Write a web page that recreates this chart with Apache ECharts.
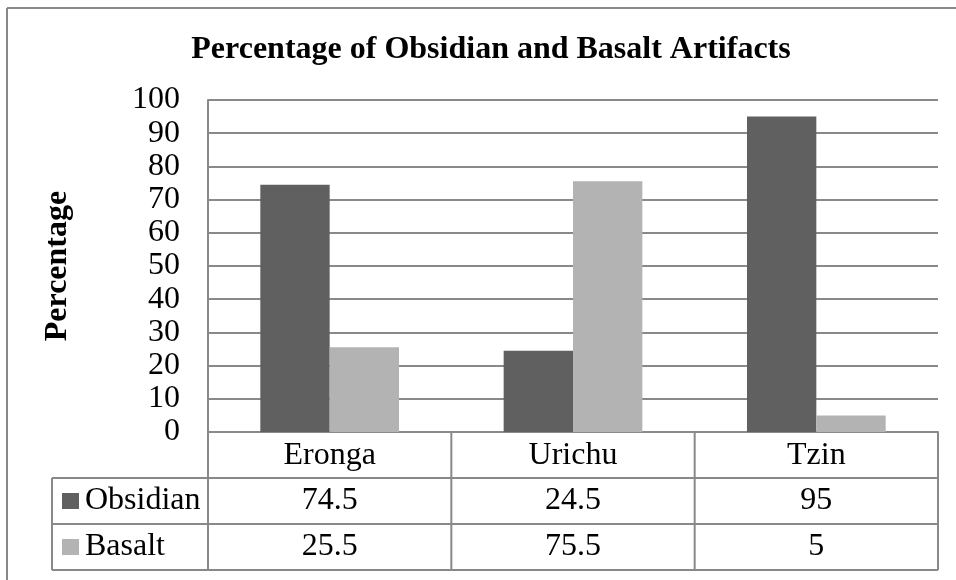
<!DOCTYPE html>
<html>
<head>
<meta charset="utf-8">
<script src="https://cdn.jsdelivr.net/npm/echarts@6/dist/echarts.min.js"></script>
<style>
html,body{margin:0;padding:0;background:#fff;}
#main{width:956px;height:580px;}
</style>
</head>
<body>
<div id="main"></div>
<script>
const categories = ['Eronga', 'Urichu', 'Tzin'];
const seriesNames = ['Obsidian', 'Basalt'];
const obsidian = [74.5, 24.5, 95];
const basalt = [25.5, 75.5, 5];
const yMin = 0, yMax = 100, yStep = 10;

const FONT = 'Liberation Serif';
const LINE = '#898989';
const COLORS = ['#606060', '#b3b3b3'];
const FS = 32;

const G = { left: 208, top: 100, width: 730, height: 332 };
const rowH = 46;
const tableLeft = 52;

const chart = echarts.init(document.getElementById('main'));

chart.setOption({
  animation: false,
  backgroundColor: '#fff',
  title: {
    text: 'Percentage of Obsidian and Basalt Artifacts',
    left: 486, top: 29, textAlign: 'center',
    textStyle: { fontFamily: FONT, fontSize: 32, fontWeight: 'bold', color: '#000' }
  },
  grid: { left: G.left, top: G.top, width: G.width, height: G.height, containLabel: false },
  xAxis: {
    type: 'category', data: categories,
    axisLine: { show: true, lineStyle: { color: LINE, width: 2 } },
    axisTick: { show: false },
    axisLabel: { fontFamily: FONT, fontSize: FS, color: '#000', margin: 8 },
    splitLine: { show: false }
  },
  yAxis: {
    type: 'value', min: yMin, max: yMax, interval: yStep,
    name: 'Percentage', nameLocation: 'middle', nameRotate: 90, nameGap: 134,
    nameTextStyle: { fontFamily: FONT, fontSize: 32, fontWeight: 'bold', color: '#000' },
    axisLine: { show: true, lineStyle: { color: LINE, width: 2 } },
    axisTick: { show: false },
    axisLabel: { fontFamily: FONT, fontSize: FS, color: '#000', margin: 28 },
    splitLine: { show: true, lineStyle: { color: LINE, width: 2 } }
  },
  series: [
    { name: seriesNames[0], type: 'bar', data: obsidian, barGap: '0%', barCategoryGap: '43%',
      itemStyle: { color: COLORS[0] } },
    { name: seriesNames[1], type: 'bar', data: basalt, barGap: '0%', barCategoryGap: '43%',
      itemStyle: { color: COLORS[1] } }
  ]
});

// Data table beneath the plot
const els = [];
const y0 = G.top + G.height;
const right = G.left + G.width;
const lineStyle = { stroke: LINE, lineWidth: 2 };
const bounds = [G.left];
for (let i = 0; i < categories.length; i++) bounds.push(G.left + G.width * (i + 1) / categories.length);
bounds.forEach(function (x) {
  els.push({ type: 'line', shape: { x1: x, y1: y0, x2: x, y2: y0 + rowH * 3 }, style: lineStyle, silent: true });
});
els.push({ type: 'line', shape: { x1: tableLeft, y1: y0 + rowH, x2: tableLeft, y2: y0 + rowH * 3 }, style: lineStyle });
for (let r = 1; r <= 3; r++) {
  els.push({ type: 'line', shape: { x1: tableLeft, y1: y0 + rowH * r, x2: right, y2: y0 + rowH * r }, style: lineStyle });
}
const rows = [obsidian, basalt];
rows.forEach(function (vals, ri) {
  const cy = y0 + rowH * (ri + 1) + rowH / 2;
  els.push({ type: 'rect', shape: { x: 62, y: cy - 8, width: 17, height: 16 }, style: { fill: COLORS[ri] } });
  els.push({ type: 'text', style: { text: seriesNames[ri], x: 85, y: cy, align: 'left', verticalAlign: 'middle',
    font: FS + 'px "' + FONT + '"', fill: '#000' } });
  vals.forEach(function (v, ci) {
    const cx = chart.convertToPixel({ xAxisIndex: 0 }, categories[ci]);
    els.push({ type: 'text', style: { text: String(v), x: cx, y: cy, align: 'center', verticalAlign: 'middle',
      font: FS + 'px "' + FONT + '"', fill: '#000' } });
  });
});
els.push({ type: 'line', shape: { x1: 7, y1: 8, x2: 7, y2: 580 }, style: lineStyle });
els.push({ type: 'line', shape: { x1: 7, y1: 8, x2: 956, y2: 8 }, style: lineStyle });

chart.setOption({ graphic: { elements: els } });
</script>
</body>
</html>
